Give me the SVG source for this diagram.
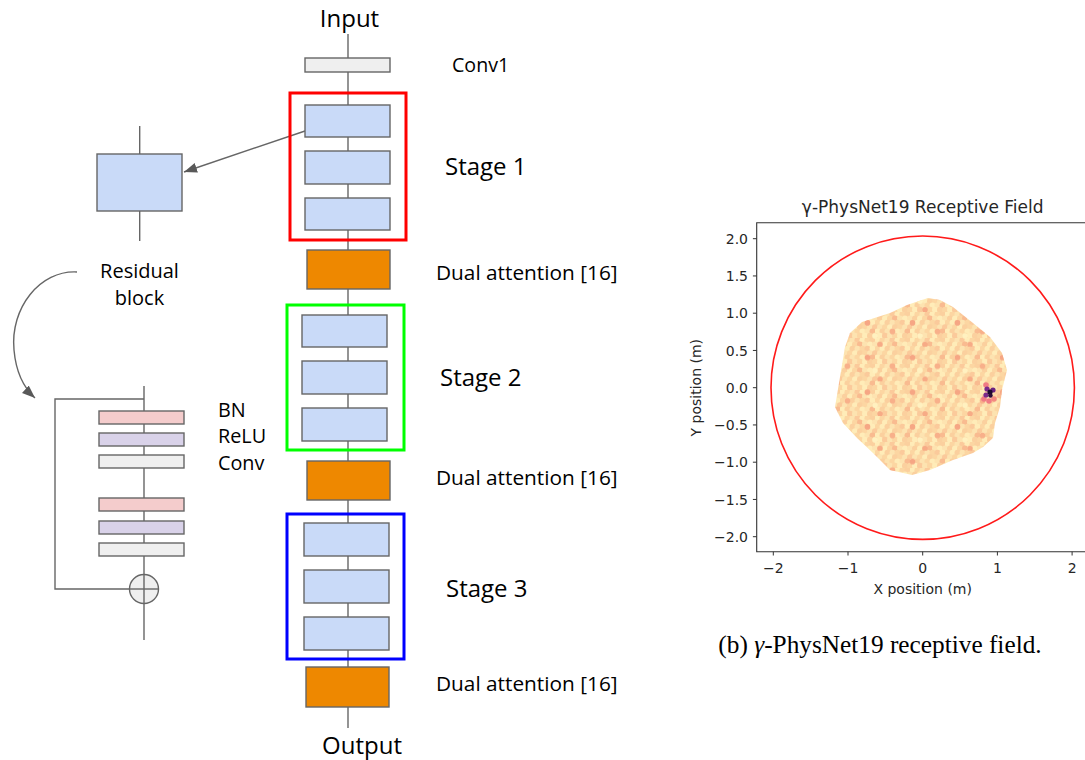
<svg xmlns="http://www.w3.org/2000/svg" width="1085" height="760" viewBox="0 0 1085 760">
<style>
.t{font-family:"Open Sans","DejaVu Sans",sans-serif;fill:#000}
.p{font-family:"DejaVu Sans",sans-serif;fill:#262626}
.blk{fill:#c9daf8;stroke:#666;stroke-width:1.4}
.gry{fill:#efefef;stroke:#666;stroke-width:1.4}
.pnk{fill:#f4cccc;stroke:#666;stroke-width:1.4}
.prp{fill:#d9d2e9;stroke:#666;stroke-width:1.4}
.org{fill:#ee8800;stroke:#666;stroke-width:1.4}
.ln{fill:none;stroke:#666;stroke-width:1.4}
.stg{fill:none;stroke-width:3}
.tk{stroke:#333;stroke-width:1}
</style>
<defs>
<marker id="ah" markerUnits="userSpaceOnUse" markerWidth="14" markerHeight="12" refX="13" refY="5" orient="auto">
<path d="M0,0 L13,5 L0,10 z" fill="#595959"/>
</marker>
<pattern id="hexA" patternUnits="userSpaceOnUse" width="35" height="26">
<rect width="35" height="26" fill="#fcdcaa"/>
<g>
<circle cx="2.5" cy="2.17" r="3" fill="#ffecb8"/><circle cx="7.5" cy="2.17" r="3" fill="#fcd6a2"/><circle cx="12.5" cy="2.17" r="3" fill="#fde3b0"/><circle cx="17.5" cy="2.17" r="3" fill="#fbca9b"/><circle cx="22.5" cy="2.17" r="3" fill="#ffecb8"/><circle cx="27.5" cy="2.17" r="3" fill="#fcd6a2"/><circle cx="32.5" cy="2.17" r="3" fill="#fbd09e"/>
<circle cx="0" cy="6.5" r="3" fill="#fde3b0"/><circle cx="5" cy="6.5" r="3" fill="#fbd09e"/><circle cx="10" cy="6.5" r="3" fill="#ffecb8"/><circle cx="15" cy="6.5" r="3" fill="#fcd6a2"/><circle cx="20" cy="6.5" r="3" fill="#f9bb90"/><circle cx="25" cy="6.5" r="3" fill="#fde3b0"/><circle cx="30" cy="6.5" r="3" fill="#ffecb8"/><circle cx="35" cy="6.5" r="3" fill="#fde3b0"/>
<circle cx="2.5" cy="10.83" r="3" fill="#fcd6a2"/><circle cx="7.5" cy="10.83" r="3" fill="#ffecb8"/><circle cx="12.5" cy="10.83" r="3" fill="#fbd09e"/><circle cx="17.5" cy="10.83" r="3" fill="#fde3b0"/><circle cx="22.5" cy="10.83" r="3" fill="#fcd6a2"/><circle cx="27.5" cy="10.83" r="3" fill="#fbca9b"/><circle cx="32.5" cy="10.83" r="3" fill="#ffecb8"/>
<circle cx="0" cy="15.17" r="3" fill="#fbca9b"/><circle cx="5" cy="15.17" r="3" fill="#fde3b0"/><circle cx="10" cy="15.17" r="3" fill="#fcd6a2"/><circle cx="15" cy="15.17" r="3" fill="#ffecb8"/><circle cx="20" cy="15.17" r="3" fill="#fbd09e"/><circle cx="25" cy="15.17" r="3" fill="#fcd6a2"/><circle cx="30" cy="15.17" r="3" fill="#fde3b0"/><circle cx="35" cy="15.17" r="3" fill="#fbca9b"/>
<circle cx="2.5" cy="19.5" r="3" fill="#ffecb8"/><circle cx="7.5" cy="19.5" r="3" fill="#fbd09e"/><circle cx="12.5" cy="19.5" r="3" fill="#fde3b0"/><circle cx="17.5" cy="19.5" r="3" fill="#fcd6a2"/><circle cx="22.5" cy="19.5" r="3" fill="#ffecb8"/><circle cx="27.5" cy="19.5" r="3" fill="#fde3b0"/><circle cx="32.5" cy="19.5" r="3" fill="#f9bb90"/>
<circle cx="0" cy="23.83" r="3" fill="#fcd6a2"/><circle cx="5" cy="23.83" r="3" fill="#ffecb8"/><circle cx="10" cy="23.83" r="3" fill="#fbca9b"/><circle cx="15" cy="23.83" r="3" fill="#fde3b0"/><circle cx="20" cy="23.83" r="3" fill="#fcd6a2"/><circle cx="25" cy="23.83" r="3" fill="#ffecb8"/><circle cx="30" cy="23.83" r="3" fill="#fbd09e"/><circle cx="35" cy="23.83" r="3" fill="#fcd6a2"/>
</g>
</pattern>
<pattern id="hexB" patternUnits="userSpaceOnUse" width="45" height="34.67">
<circle cx="12.5" cy="10.83" r="2.8" fill="#f6a684"/><circle cx="37.5" cy="19.5" r="2.8" fill="#f8b08a"/><circle cx="25" cy="32.5" r="2.8" fill="#f7ab86"/><circle cx="20" cy="23.83" r="2.8" fill="#fff1c0"/>
</pattern>
</defs>
<rect width="1085" height="760" fill="#fff"/>

<g id="connectors">
<line class="ln" x1="348" y1="34" x2="348" y2="728"/>
<line class="ln" x1="139.7" y1="126" x2="139.7" y2="241"/>
<line class="ln" x1="305" y1="131" x2="184" y2="172" marker-end="url(#ah)"/>
<path class="ln" d="M77,272 C40,270 10,308 14,350 C16,372 24,388 35,398" marker-end="url(#ah)"/>
<line class="ln" x1="144" y1="386" x2="144" y2="640"/>
<path class="ln" d="M144,399 H55 V589 H130"/>
</g>

<g id="input"><text class="t" x="349.5" y="27" font-size="24" text-anchor="middle">Input</text></g>
<g id="conv1"><rect class="gry" x="305" y="58" width="85" height="14"/><text class="t" x="452" y="72" font-size="19.6">Conv1</text></g>

<g id="stage1">
<rect class="stg" x="290" y="93" width="116" height="147" stroke="#ff0000"/>
<rect class="blk" x="305" y="105" width="85" height="32"/>
<rect class="blk" x="305" y="151" width="85" height="33"/>
<rect class="blk" x="305" y="198" width="85" height="32"/>
<text class="t" x="445" y="175" font-size="24">Stage 1</text>
</g>
<g id="att1"><rect class="org" x="307" y="250" width="83" height="39"/><text class="t" x="436" y="280" font-size="20.8">Dual attention [16]</text></g>

<g id="stage2">
<rect class="stg" x="287" y="305" width="117" height="145" stroke="#00ff00"/>
<rect class="blk" x="302" y="315" width="85" height="32"/>
<rect class="blk" x="302" y="361" width="85" height="33"/>
<rect class="blk" x="302" y="408" width="85" height="33"/>
<text class="t" x="440" y="386" font-size="24">Stage 2</text>
</g>
<g id="att2"><rect class="org" x="307" y="461" width="83" height="39"/><text class="t" x="436" y="485" font-size="20.8">Dual attention [16]</text></g>

<g id="stage3">
<rect class="stg" x="287" y="514" width="117" height="145" stroke="#0000ff"/>
<rect class="blk" x="304" y="523" width="85" height="33"/>
<rect class="blk" x="304" y="570" width="85" height="33"/>
<rect class="blk" x="304" y="617" width="85" height="33"/>
<text class="t" x="446" y="597" font-size="24">Stage 3</text>
</g>
<g id="att3"><rect class="org" x="306" y="667" width="83" height="40"/><text class="t" x="436" y="691" font-size="20.8">Dual attention [16]</text></g>
<g id="output"><text class="t" x="362" y="754" font-size="24" text-anchor="middle">Output</text></g>

<g id="resblock">
<rect class="blk" x="97" y="154" width="85" height="57"/>
<text class="t" x="139.5" y="278" font-size="20" text-anchor="middle">Residual</text>
<text class="t" x="139.5" y="305" font-size="20" text-anchor="middle">block</text>
</g>

<g id="resdetail">
<rect class="pnk" x="99" y="411" width="85" height="13"/>
<rect class="prp" x="99" y="433" width="85" height="13"/>
<rect class="gry" x="99" y="455" width="85" height="13"/>
<rect class="pnk" x="99" y="498" width="85" height="13"/>
<rect class="prp" x="99" y="521" width="85" height="13"/>
<rect class="gry" x="99" y="543" width="85" height="13"/>
<circle class="gry" cx="144" cy="589" r="14.5"/>
<line class="ln" x1="129.5" y1="589" x2="158.5" y2="589"/>
<line class="ln" x1="144" y1="574.5" x2="144" y2="603.5"/>
<text class="t" x="218" y="417" font-size="19.8">BN</text>
<text class="t" x="218" y="443" font-size="19.8">ReLU</text>
<text class="t" x="218" y="470" font-size="19.8">Conv</text>
</g>

<g id="plot">
<text class="p" x="922.7" y="213" font-size="17" text-anchor="middle">γ-PhysNet19 Receptive Field</text>
<polygon points="928,298 940,300 953,307 973,323 990,337 1002,353 1007,370 1002,390 1000,407 995,423 993,438 983,447 973,453 953,460 930,470 912,475 890,470 873,453 857,438 843,423 835,407 840,377 845,347 850,333 862,322 890,313 907,305" fill="url(#hexA)"/>
<polygon points="928,298 940,300 953,307 973,323 990,337 1002,353 1007,370 1002,390 1000,407 995,423 993,438 983,447 973,453 953,460 930,470 912,475 890,470 873,453 857,438 843,423 835,407 840,377 845,347 850,333 862,322 890,313 907,305" fill="url(#hexB)"/>
<g>
<circle cx="984" cy="399" r="2.8" fill="#f07b84"/><circle cx="989" cy="401" r="2.8" fill="#f07b84"/><circle cx="994" cy="399" r="2.8" fill="#f38a80"/><circle cx="986" cy="385" r="2.8" fill="#f07b84"/>
<circle cx="987" cy="389" r="2.6" fill="#7a2a8a"/><circle cx="993" cy="390" r="2.6" fill="#6a2180"/><circle cx="986" cy="395" r="2.6" fill="#7a2a8a"/>
<circle cx="990" cy="392" r="2.6" fill="#1c0a2e"/><circle cx="990.5" cy="395.5" r="2.2" fill="#2a0c3a"/>
</g>
<circle cx="922.7" cy="387.7" r="151.7" fill="none" stroke="#ff1a1a" stroke-width="1.6"/>
<path d="M1090,222.7 H756.7 V551.7 H1090" fill="none" stroke="#333" stroke-width="1.1"/>
<g class="tk">
<line x1="752.9" y1="238.7" x2="756.7" y2="238.7"/><line x1="752.9" y1="275.95" x2="756.7" y2="275.95"/><line x1="752.9" y1="313.2" x2="756.7" y2="313.2"/><line x1="752.9" y1="350.45" x2="756.7" y2="350.45"/><line x1="752.9" y1="387.7" x2="756.7" y2="387.7"/><line x1="752.9" y1="424.95" x2="756.7" y2="424.95"/><line x1="752.9" y1="462.2" x2="756.7" y2="462.2"/><line x1="752.9" y1="499.45" x2="756.7" y2="499.45"/><line x1="752.9" y1="536.7" x2="756.7" y2="536.7"/>
<line x1="773.3" y1="551.7" x2="773.3" y2="555.5"/><line x1="848" y1="551.7" x2="848" y2="555.5"/><line x1="922.7" y1="551.7" x2="922.7" y2="555.5"/><line x1="997.4" y1="551.7" x2="997.4" y2="555.5"/><line x1="1072.1" y1="551.7" x2="1072.1" y2="555.5"/>
</g>
<g font-size="14" text-anchor="end">
<text class="p" x="748" y="243.7">2.0</text><text class="p" x="748" y="281">1.5</text><text class="p" x="748" y="318.2">1.0</text><text class="p" x="748" y="355.5">0.5</text><text class="p" x="748" y="392.7">0.0</text><text class="p" x="748" y="430">−0.5</text><text class="p" x="748" y="467.2">−1.0</text><text class="p" x="748" y="504.5">−1.5</text><text class="p" x="748" y="541.7">−2.0</text>
</g>
<g font-size="14" text-anchor="middle">
<text class="p" x="773.3" y="573">−2</text><text class="p" x="848" y="573">−1</text><text class="p" x="922.7" y="573">0</text><text class="p" x="997.4" y="573">1</text><text class="p" x="1072.1" y="573">2</text>
</g>
<text class="p" x="922.7" y="594" font-size="14" text-anchor="middle">X position (m)</text>
<text class="p" x="701" y="387.7" font-size="14" text-anchor="middle" transform="rotate(-90 701 387.7)">Y position (m)</text>
</g>

<g id="caption">
<text x="880" y="653" font-size="25.3" text-anchor="middle" font-family="'Liberation Serif','DejaVu Serif',serif" fill="#000">(b) <tspan font-style="italic">γ</tspan>-PhysNet19 receptive field.</text>
</g>
</svg>
